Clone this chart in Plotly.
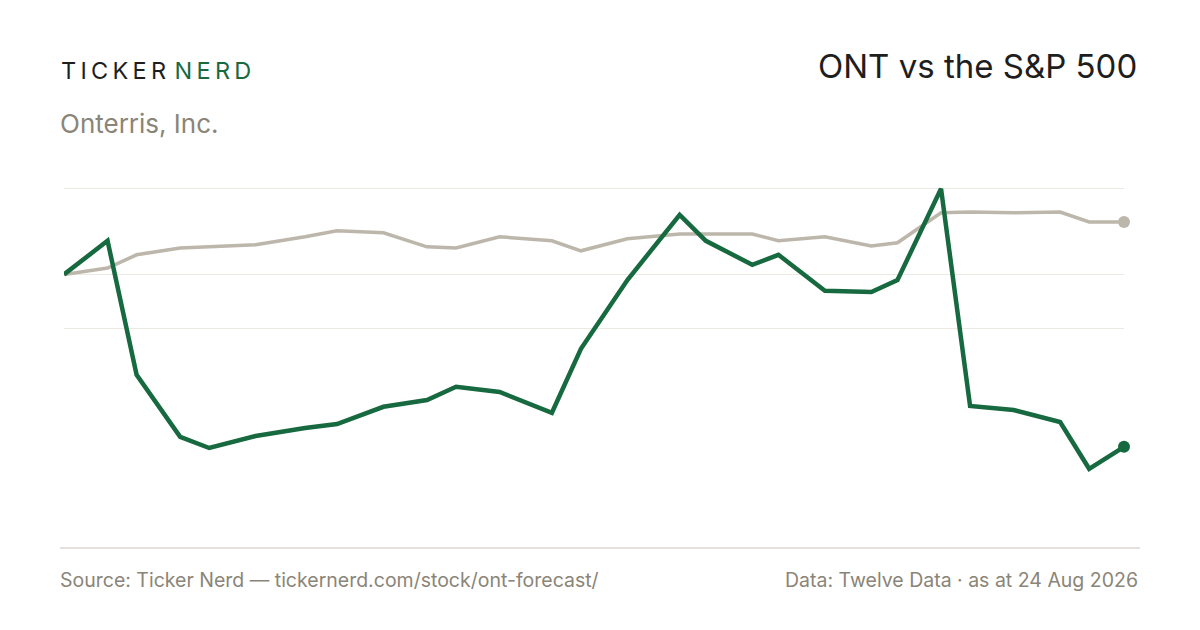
import plotly.graph_objects as go

# --- データ (2025-08-24 を基準とした騰落率 %) ---
dates = [
    "2025-08-24", "2025-09-08", "2025-09-18", "2025-10-03", "2025-10-13",
    "2025-10-29", "2025-11-15", "2025-11-26", "2025-12-12", "2025-12-27",
    "2026-01-06", "2026-01-21", "2026-02-08", "2026-02-18", "2026-03-06",
    "2026-03-24", "2026-04-02", "2026-04-18", "2026-04-27", "2026-05-13",
    "2026-05-29", "2026-06-07", "2026-06-22", "2026-07-02", "2026-07-17",
    "2026-08-02", "2026-08-12", "2026-08-24",
]
ont_pct = [
    0.0, 8.4, -25.1, -40.6, -43.4, -40.4, -38.4, -37.4, -33.1, -31.4,
    -28.1, -29.4, -34.6, -18.6, -1.4, 14.9, 8.4, 2.4, 4.9, -4.1,
    -4.4, -1.4, 21.4, -32.9, -33.9, -36.9, -48.6, -43.1,
]
spx_pct = [
    0.0, 1.6, 4.9, 6.6, 6.9, 7.4, 9.4, 10.9, 10.4, 6.9,
    6.6, 9.4, 8.4, 5.9, 8.9, 10.1, 10.1, 10.1, 8.4, 9.4,
    7.1, 7.9, 15.4, 15.6, 15.4, 15.6, 13.1, 13.1,
]

GREEN = "#17693f"
GREY_LINE = "#bdb6ab"
GREY_TEXT = "#8a8578"
GRID = "#ece9e2"
FONT = "Inter"

# グリッド: 最大値・0・最大/最小の中間
grid_vals = [max(ont_pct), 0, (max(ont_pct) + min(ont_pct)) / 2]

fig = go.Figure()

fig.add_trace(go.Scatter(
    x=dates, y=spx_pct, mode="lines",
    line=dict(color=GREY_LINE, width=3.5),
    hoverinfo="skip", showlegend=False,
))
fig.add_trace(go.Scatter(
    x=dates, y=ont_pct, mode="lines",
    line=dict(color=GREEN, width=4.5),
    hoverinfo="skip", showlegend=False,
))
# 終点マーカー
fig.add_trace(go.Scatter(
    x=[dates[-1]], y=[spx_pct[-1]], mode="markers",
    marker=dict(color=GREY_LINE, size=12), cliponaxis=False,
    hoverinfo="skip", showlegend=False,
))
fig.add_trace(go.Scatter(
    x=[dates[-1]], y=[ont_pct[-1]], mode="markers",
    marker=dict(color=GREEN, size=12), cliponaxis=False,
    hoverinfo="skip", showlegend=False,
))

# ページの余白 (8px) を差し引いた配置
OFF = 8
left_px, right_px = 64 - OFF, 1124 - OFF
top_px, bottom_px = 160 - OFF, 500 - OFF
px_per_pct = 4.0
y_top = 28.6
y_bottom = y_top - (bottom_px - top_px) / px_per_pct
pw, ph = right_px - left_px, bottom_px - top_px

fig.update_layout(
    width=1200, height=630,
    margin=dict(l=left_px, r=1200 - right_px, t=top_px, b=630 - bottom_px),
    paper_bgcolor="white", plot_bgcolor="white",
    font=dict(family=FONT, color=GREY_TEXT),
    xaxis=dict(
        type="date", range=[dates[0], dates[-1]],
        showgrid=False, showticklabels=False, zeroline=False, showline=False,
    ),
    yaxis=dict(
        range=[y_bottom, y_top],
        tickvals=grid_vals, showticklabels=False,
        showgrid=True, gridcolor=GRID, gridwidth=1.2,
        zeroline=False, showline=False,
    ),
    shapes=[
        dict(type="line", xref="paper", yref="paper",
             x0=-4 / pw, x1=1 + 16 / pw,
             y0=-48 / ph, y1=-48 / ph,
             line=dict(color="#dcd8cf", width=1.5)),
    ],
)

sp = "\u2009"
brand = (f'<span style="color:#1e1e1e">{sp.join("TICKER")}{sp}</span>'
         f'<span style="color:{GREEN}">{sp}{sp.join("NERD")}</span>')

annos = [
    dict(text=brand, x=59, y=70, size=23.5),
    dict(text="Onterris, Inc.", x=58, y=124, size=26, color=GREY_TEXT),
    dict(text="ONT vs the S&P 500", x=1139, y=66, size=33, color="#1e1e1e", anchor="right"),
    dict(text="Source: Ticker Nerd — tickernerd.com/stock/ont-forecast/", x=58, y=580,
         size=19.5, color=GREY_TEXT),
    dict(text="Data: Twelve Data · as at 24 Aug 2026", x=1140, y=580,
         size=19.5, color=GREY_TEXT, anchor="right"),
]
for a in annos:
    fig.add_annotation(
        text=a["text"], xref="paper", yref="paper",
        x=(a["x"] - OFF - left_px) / pw, y=(bottom_px - (a["y"] - OFF)) / ph,
        xanchor=a.get("anchor", "left"), yanchor="middle",
        showarrow=False,
        font=dict(family=FONT, size=a["size"], color=a.get("color", "#1e1e1e")),
    )

fig.write_html("out.html")
